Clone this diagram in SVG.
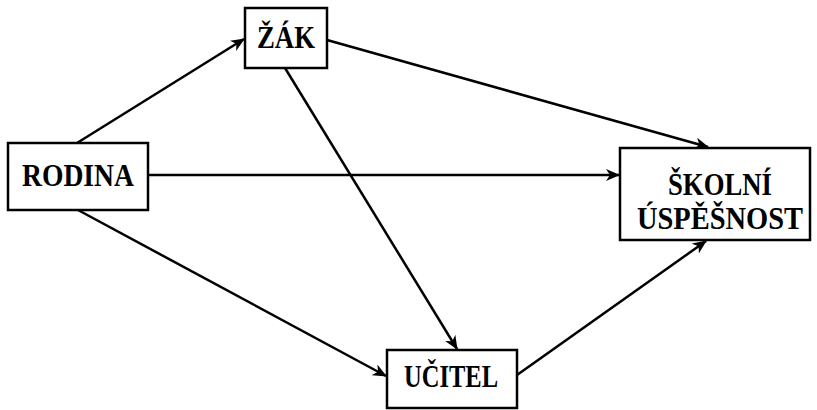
<svg xmlns="http://www.w3.org/2000/svg" width="817" height="410" viewBox="0 0 817 410">
<defs>
<style>
.box{fill:#fff;stroke:#000;stroke-width:2.5}
.t{font-family:"Liberation Serif","Times New Roman",serif;font-weight:bold;font-size:31px;fill:#000}
.c{stroke:#000;stroke-width:2.5;fill:none;marker-end:url(#a)}
</style>
<marker id="a" viewBox="0 0 14 12" refX="13" refY="6" markerWidth="14" markerHeight="12" markerUnits="userSpaceOnUse" orient="auto">
<path d="M0,0 L14,6 L0,12 L4,6 Z" fill="#000"/>
</marker>
</defs>
<rect width="817" height="410" fill="#fff"/>
<g id="connectors">
<line class="c" x1="77" y1="143" x2="244" y2="39"/>
<line class="c" x1="327" y1="40" x2="708" y2="147"/>
<line class="c" x1="148" y1="175" x2="619" y2="175"/>
<line class="c" x1="285" y1="68" x2="457" y2="349"/>
<line class="c" x1="78" y1="210" x2="386" y2="376"/>
<line class="c" x1="517" y1="375" x2="706" y2="241"/>
</g>
<g id="rodina">
<rect class="box" x="8" y="143" width="140" height="67"/>
<text class="t" x="22" y="186" textLength="112" lengthAdjust="spacingAndGlyphs">RODINA</text>
</g>
<g id="zak">
<rect class="box" x="245" y="8" width="82" height="60"/>
<text class="t" x="257" y="48" textLength="58" lengthAdjust="spacingAndGlyphs">ŽÁK</text>
</g>
<g id="skolni-uspesnost">
<rect class="box" x="620" y="148" width="190" height="92"/>
<text class="t" x="668" y="195" textLength="104" lengthAdjust="spacingAndGlyphs">ŠKOLNÍ</text>
<text class="t" x="637" y="229" textLength="166" lengthAdjust="spacingAndGlyphs">ÚSPĚŠNOST</text>
</g>
<g id="ucitel">
<rect class="box" x="387" y="350" width="130" height="58"/>
<text class="t" x="404" y="387" textLength="94" lengthAdjust="spacingAndGlyphs">UČITEL</text>
</g>
</svg>
